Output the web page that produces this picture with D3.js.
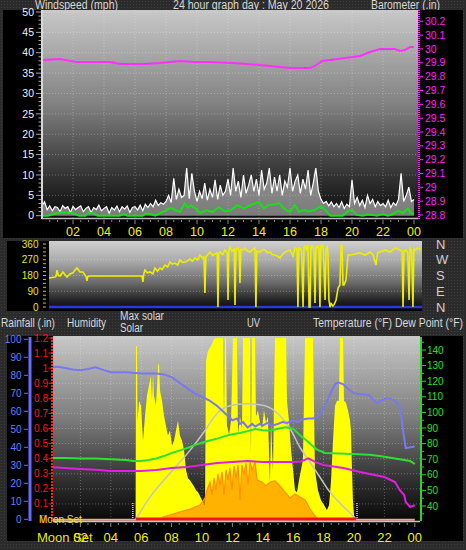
<!DOCTYPE html>
<html><head><meta charset="utf-8">
<script src="https://cdn.jsdelivr.net/npm/d3@7/dist/d3.min.js"></script>
<style>html,body{margin:0;padding:0;background:#2d2d2d;overflow:hidden}svg{display:block}</style>
</head><body>
<svg id="c" width="466" height="550"></svg>
<script>
// ---------------- DATA ----------------
const hourLabels = ["02","04","06","08","10","12","14","16","18","20","22","00"];
const hourTicks = [2,4,6,8,10,12,14,16,18,20,22,24];
const windTicks = [0,5,10,15,20,25,30,35,40,45,50];
const baroTicks = [28.8,28.9,29.0,29.1,29.2,29.3,29.4,29.5,29.6,29.7,29.8,29.9,30.0,30.1,30.2];
const dirTicks = [0,90,180,270,360];
const compass = ["N","E","S","W","N"];
const humTicks = [0,10,20,30,40,50,60,70,80,90,100];
const rainTicks = [0.1,0.2,0.3,0.4,0.5,0.6,0.7,0.8,0.9,1.0,1.1,1.2];
const tempTicks = [40,50,60,70,80,90,100,110,120,130,140];

// wind gust (mph), one value every 10 minutes from 00:00
const windGust = [
2.5,3.4,1.5,2.4,1.2,2.2, 2.0,1.0,2.5,1.8,2.2,0.8, 2.3,1.5,2.0,2.4,1.0,1.8,
2.2,0.8,2.0,1.5,2.6,1.2, 1.8,2.2,0.6,2.0,1.4,2.4, 1.0,2.2,1.6,2.4,0.8,2.0,
2.2,1.4,2.6,1.2,2.8,2.0, 3.0,2.2,3.8,2.5,3.2,2.8, 3.5,5.0,3.2,9.2,4.0,6.5,
4.5,5.0,11.7,4.2,10.4,6.0, 3.5,6.0,4.2,8.0,3.8,6.5, 4.5,8.8,4.0,7.5,5.0,6.0,
9.0,5.0,11.7,6.0,8.5,4.5, 10.0,5.5,7.5,10.0,6.0,9.0, 5.0,11.2,6.5,8.0,11.7,5.5,
9.5,6.0,10.0,5.0,8.5,7.0, 11.7,6.0,8.5,10.0,5.5,9.0, 6.5,11.2,5.0,8.0,11.7,6.0,
4.0,3.0,3.5,2.4,3.4,2.2, 3.0,2.0,3.4,1.8,2.8,2.2, 8.8,3.0,4.5,2.5,3.8,2.0,
5.0,3.0,4.0,2.2,3.5,2.5, 3.0,2.2,3.8,2.0,3.2,2.5, 4.0,10.4,3.5,5.0,7.0,3.5,
4.0];
const gustStepHours = 1/6;

// average wind [hour, mph]
const windAvg = [[0,0],[0.4,0],[0.8,0.5],[1.2,0.8],[1.6,0.8],[2.0,0.6],[2.4,0],[2.8,0],[3.0,0.7],[3.3,0.6],[3.6,0],[4.0,0],[5.0,0],[5.3,0.4],[5.5,0],[6.0,0],[6.5,0],[6.7,0.6],[7.0,0.4],[7.3,0],[7.6,0.6],[8.0,1.3],[8.3,1.9],[8.6,1.4],[8.9,0.9],[9.2,3.0],[9.4,2.0],[9.6,2.5],[9.9,1.8],[10.2,0.6],[10.6,1.4],[11.0,0.9],[11.4,2.1],[11.8,1.1],[12.2,1.4],[12.6,2.6],[13.0,1.8],[13.4,2.5],[13.8,3.1],[14.0,3.4],[14.3,1.8],[14.6,2.6],[15.0,2.8],[15.3,3.1],[15.6,1.8],[16.0,0.9],[16.3,2.6],[16.6,0.9],[16.9,1.4],[17.2,1.1],[17.6,1.4],[18.0,2.4],[18.3,1.3],[18.6,0],[19.0,0],[19.4,0],[19.8,1.3],[20.0,1.4],[20.3,0.2],[20.7,0],[21.0,0.3],[21.3,0.2],[21.6,0],[22.0,0.4],[22.3,0],[22.6,0.3],[23.0,1.2],[23.3,0.6],[23.6,1.8],[23.8,0.6],[24.0,0.4]];

// barometer [hour, inHg]
const baro = [[0,29.92],[1.16,29.927],[2.26,29.905],[4.39,29.905],[5.03,29.891],[6.65,29.891],[7.61,29.898],[8.9,29.913],[9.87,29.905],[10.84,29.905],[12.32,29.898],[14.06,29.884],[15.35,29.869],[16.0,29.862],[16.65,29.862],[17.29,29.862],[17.61,29.877],[18.06,29.913],[18.58,29.92],[19.55,29.934],[20.52,29.949],[21.16,29.978],[21.81,29.999],[22.77,29.999],[23.1,29.985],[23.42,29.992],[23.74,30.014],[24,30.014]];

// wind direction [hour, degrees]
const windDir = [[0,166],[0.39,171],[0.45,175],[0.52,211],[0.6,180],[0.71,177],[0.9,200],[1.16,171],[1.35,189],[1.55,195],[1.68,211],[1.81,223],[2.0,200],[2.19,200],[2.4,171],[2.45,149],[2.5,175],[2.65,177],[2.84,177],[4,177],[5,177],[6.0,177],[6.06,143],[6.12,190],[6.19,211],[6.35,195],[6.52,200],[6.7,190],[6.84,223],[7.0,205],[7.16,223],[7.3,215],[7.48,240],[7.65,230],[7.81,257],[7.95,245],[8.13,251],[8.3,240],[8.45,269],[8.6,255],[8.77,257],[8.95,265],[9.1,274],[9.25,262],[9.42,280],[9.6,270],[9.74,297],[9.9,280],[10.0,286],[10.06,80],[10.12,286],[10.25,300],[10.39,314],[10.55,295],[10.71,303],[10.85,310],[10.9,0],[10.96,305],[11.03,314],[11.2,300],[11.35,326],[11.5,310],[11.55,40],[11.6,320],[11.68,343],[11.8,320],[11.87,326],[11.95,330],[12.0,11],[12.06,330],[12.19,337],[12.27,320],[12.32,137],[12.38,330],[12.52,326],[12.65,337],[12.8,320],[12.97,314],[13.15,330],[13.29,337],[13.35,0],[13.41,320],[13.61,314],[13.8,330],[13.94,326],[14.1,310],[14.26,314],[14.4,300],[14.58,297],[14.75,290],[14.9,280],[15.05,300],[15.23,314],[15.4,320],[15.55,326],[15.74,291],[15.87,337],[16.0,330],[16.06,0],[16.12,337],[16.19,337],[16.3,320],[16.39,0],[16.45,340],[16.52,349],[16.6,330],[16.71,354],[16.78,0],[16.84,0],[16.9,345],[17.03,349],[17.1,320],[17.16,23],[17.22,340],[17.35,349],[17.42,330],[17.48,0],[17.54,345],[17.61,354],[17.7,340],[17.81,40],[17.87,330],[17.94,349],[18.0,300],[18.06,40],[18.13,0],[18.2,20],[18.32,6],[18.4,15],[18.52,40],[18.65,109],[18.77,126],[18.84,354],[18.9,354],[18.97,126],[19.03,126],[19.16,154],[19.29,297],[19.42,297],[19.74,303],[20.06,309],[20.39,297],[20.71,314],[20.9,300],[21.1,240],[21.2,310],[21.35,314],[21.68,326],[22.0,314],[22.32,337],[22.65,326],[22.78,320],[22.84,0],[22.9,320],[23.03,326],[23.15,310],[23.23,40],[23.29,337],[23.4,320],[23.48,0],[23.54,330],[23.61,326],[23.81,337],[24,326]];

// solar radiation [hour, W/m2]
const solar = [[5.63,0],[5.66,1147],[5.72,1147],[5.76,652],[5.86,784],[5.99,751],[6.12,521],[6.25,685],[6.38,817],[6.51,883],[6.64,949],[6.71,784],[6.78,969],[6.84,817],[6.97,751],[7.04,883],[7.11,1015],[7.17,1035],[7.24,850],[7.37,784],[7.50,685],[7.63,619],[7.76,554],[7.89,587],[8.03,488],[8.16,521],[8.29,587],[8.42,652],[8.55,554],[8.68,521],[8.82,455],[8.95,323],[9.08,270],[9.21,257],[9.34,237],[9.47,217],[9.61,191],[9.74,178],[9.87,152],[10.00,125],[10.13,92],[10.20,92],[10.26,1048],[10.39,1114],[10.59,1147],[10.79,1193],[10.92,1200],[11.38,1200],[11.45,652],[11.51,1200],[11.58,1200],[11.64,620],[11.78,560],[11.91,650],[12.04,1200],[12.30,1200],[12.37,560],[12.50,680],[12.63,600],[12.70,1200],[13.16,1200],[13.22,435],[13.29,1200],[13.49,1200],[13.55,680],[13.68,720],[13.82,640],[13.95,600],[14.08,720],[14.21,640],[14.34,680],[14.47,244],[14.54,652],[14.67,323],[14.80,1200],[15.53,1200],[15.59,784],[15.72,652],[15.86,455],[15.99,323],[16.12,191],[16.25,178],[16.38,257],[16.51,323],[16.64,389],[16.78,1200],[17.30,1200],[17.43,323],[17.63,191],[17.83,125],[18.03,92],[18.22,59],[18.36,92],[18.49,257],[18.62,521],[18.75,751],[18.88,784],[19.01,784],[19.08,1200],[19.28,1200],[19.34,784],[19.47,771],[19.61,718],[19.74,652],[19.80,587],[19.87,323],[19.93,125],[20.00,26],[20.07,0]];

// maximum (clear-sky) solar [hour, W/m2]
const maxSolar = [[5.66,0],[6.58,145],[7.89,303],[9.21,455],[10.20,587],[10.86,685],[11.84,751],[12.96,764],[14.14,751],[15.13,685],[15.79,600],[16.45,474],[17.11,376],[17.76,277],[18.42,178],[19.08,105],[19.74,40],[20.13,0]];

// UV index [hour, index]
const uv = [[7.42,0],[7.43,0.18],[7.89,0.35],[8.55,0.62],[9.21,0.88],[9.87,1.23],[10.20,1.85],[10.33,2.55],[10.53,3.25],[10.66,2.11],[10.79,3.6],[10.92,2.55],[11.05,3.96],[11.18,2.99],[11.32,4.13],[11.45,2.11],[11.58,4.31],[11.71,3.43],[11.84,4.48],[11.97,2.55],[12.11,4.66],[12.24,3.6],[12.37,4.75],[12.50,1.67],[12.63,4.75],[12.76,3.87],[12.89,4.92],[13.03,2.99],[13.16,5.0],[13.29,4.31],[13.49,5.0],[13.62,3.43],[13.95,3.25],[14.21,2.9],[14.47,3.25],[14.80,3.34],[15.13,2.9],[15.46,2.37],[15.79,1.85],[16.12,2.2],[16.45,1.93],[16.78,1.67],[17.11,0.88],[17.43,0.26],[17.63,0]];

// humidity [hour, %]
const humidity = [[0,84.4],[0.5,84.8],[1,84.0],[1.5,83.2],[2,82.8],[2.5,83.5],[3,84.4],[3.5,83],[4,81.7],[5,81.7],[6,81],[7,81],[7.5,80.5],[8,79],[8.5,76],[9,73],[9.5,70],[10,68],[10.5,66],[11,63],[11.5,59],[12,55],[12.3,56],[12.5,53],[12.7,54],[13,51],[13.3,53],[13.5,51.5],[13.8,53],[14,52],[14.3,53.5],[14.6,52],[15,53],[15.3,54],[15.6,53.5],[16,55],[16.3,54],[16.6,55.5],[17,56],[17.3,56],[17.6,57],[17.9,60],[18.2,65],[18.5,71],[18.8,75.5],[19.0,76],[19.3,75],[19.6,72.5],[20.0,70],[20.5,69.5],[21.0,69],[21.45,64.6],[21.8,66],[22.2,67.4],[22.7,66],[23.0,63],[23.2,51],[23.4,39.6],[23.7,40],[24,40.5]];

// temperature [hour, F]
const temperature = [[0,70.8],[1,70.8],[2,70.5],[3,70.5],[4,70],[5,69.5],[5.5,68.8],[6,68.8],[6.5,69.5],[7,70.5],[7.5,72],[8,74],[8.5,75.5],[9,77],[9.5,79],[10,80.5],[10.5,82],[11,83.2],[11.5,84.8],[12,86],[12.5,86.8],[13,88],[13.5,89.4],[14,88.5],[14.5,88.2],[15,89.5],[15.5,90.5],[16,89.5],[16.5,84.9],[17,81],[17.2,79.1],[17.6,76],[18.1,74],[19,73.6],[19.9,73.3],[21,72.8],[21.7,72],[23,70],[23.7,68.8],[24,66.9]];

// dew point [hour, F]
const dewPoint = [[0,65],[1,64.4],[2,63.7],[3,63.2],[4,62.4],[5,62.4],[6,62.4],[7,63.1],[8,64.4],[9,65],[10,66.3],[11,67.6],[12,68.2],[13,68.8],[14,68.2],[15,68.2],[16,68.2],[16.5,68.5],[17,70.5],[17.5,68],[18,66.3],[19.3,64.4],[20.4,61.8],[22,58.6],[22.7,55.4],[23.0,50.3],[23.3,47],[23.4,42.6],[23.7,39.4],[24,40.6]];

// rainfall [hour, in]
const rainfall = [[0,0],[24,0]];
const daylight = [[5.66,0],[20.13,0]];
const sunMarks = [5.45, 20.2];

// ---------------- DRAW ----------------
const W = 466, H = 550;
const FONT = "'Liberation Sans', Arial, sans-serif";
const svg = d3.select("#c");
const defs = svg.append("defs");
function grad(id, stops){
  const g = defs.append("linearGradient").attr("id",id).attr("x1",0).attr("y1",0).attr("x2",0).attr("y2",1);
  stops.forEach(([o,c])=>g.append("stop").attr("offset",o).attr("stop-color",c));
}
grad("gT", [[0,"#c8c8c8"],[0.45,"#828282"],[0.8,"#323232"],[1,"#0a0a0a"]]);
grad("gM", [[0,"#d0d0d0"],[0.3,"#a8a8a8"],[0.6,"#6c6c6c"],[0.85,"#262626"],[1,"#050510"]]);
grad("gB", [[0,"#c8c8c8"],[0.45,"#7c7c7c"],[0.8,"#2c2c2c"],[1,"#080808"]]);
const pat = defs.append("pattern").attr("id","dots").attr("width",3).attr("height",3).attr("patternUnits","userSpaceOnUse");
pat.append("rect").attr("width",3).attr("height",3).attr("fill","#2b2b2b");
pat.append("rect").attr("x",1).attr("y",1).attr("width",1).attr("height",1).attr("fill","#3e3e3e");
function clip(id,x,y,w,h){ defs.append("clipPath").attr("id",id).append("rect").attr("x",x).attr("y",y).attr("width",w).attr("height",h); }
clip("cT",43,10,375,208); clip("cM",49,241,373,69); clip("cB",53,336,367,185);

svg.append("rect").attr("width",W).attr("height",H).attr("fill","url(#dots)");

function txt(g,x,y,s,opt={}){
  const t = g.append("text").attr("x",x).attr("y",y).text(s)
    .attr("font-family",FONT).attr("font-size",opt.size||12).attr("fill",opt.fill||"#d8d8d8")
    .attr("text-anchor",opt.anchor||"start");
  if(opt.len){ t.attr("textLength",opt.len).attr("lengthAdjust","spacingAndGlyphs"); }
  if(opt.dy) t.attr("dy",opt.dy);
  return t;
}

// ===== TOP PANEL =====
const xT = d3.scaleLinear().domain([0,24]).range([42,414]);
const yW = d3.scaleLinear().domain([0,50]).range([215.7,12]);
const yBa = d3.scaleLinear().domain([28.8,30.2]).range([215,21.3]);

txt(svg,35,9,"Windspeed (mph)",{len:83});
txt(svg,173,9,"24 hour graph day : May 20 2026",{len:156});
txt(svg,371,9,"Barometer (.in)",{len:69});

svg.append("rect").attr("x",3).attr("y",10).attr("width",460).attr("height",228).attr("fill","#000");
svg.append("rect").attr("x",43).attr("y",10).attr("width",375).attr("height",208).attr("fill","url(#gT)");
const gT = svg.append("g").attr("clip-path","url(#cT)");
gT.selectAll("line.h").data(windTicks.slice(1)).join("line")
  .attr("x1",43).attr("x2",418).attr("y1",d=>yW(d)).attr("y2",d=>yW(d))
  .attr("stroke","rgba(255,255,255,0.28)").attr("stroke-dasharray","1,2");
gT.selectAll("line.v").data(hourTicks.slice(0,11)).join("line")
  .attr("x1",d=>xT(d)).attr("x2",d=>xT(d)).attr("y1",10).attr("y2",218)
  .attr("stroke","rgba(255,255,255,0.28)").attr("stroke-dasharray","1,2");

const gustPts = windGust.map((v,i)=>[i*gustStepHours,v]);
gT.append("path").datum(gustPts)
  .attr("d", d3.area().x(d=>xT(d[0])).y0(yW(0)).y1(d=>yW(d[1])))
  .attr("fill","rgba(215,215,215,0.55)");
gT.append("path").datum(gustPts)
  .attr("d", d3.line().x(d=>xT(d[0])).y(d=>yW(d[1])))
  .attr("fill","none").attr("stroke","#ffffff").attr("stroke-width",1.2);
gT.append("path").datum(windAvg)
  .attr("d", d3.line().x(d=>xT(d[0])).y(d=>yW(d[1])))
  .attr("fill","none").attr("stroke","#18e018").attr("stroke-width",2);
gT.append("path").datum(baro)
  .attr("d", d3.line().x(d=>xT(d[0])).y(d=>yBa(d[1])))
  .attr("fill","none").attr("stroke","#ff30ff").attr("stroke-width",2);

// axes top
svg.append("line").attr("x1",42).attr("x2",42).attr("y1",10).attr("y2",219).attr("stroke","#d8d8d8").attr("stroke-width",2);
svg.append("line").attr("x1",42).attr("x2",418).attr("y1",218.5).attr("y2",218.5).attr("stroke","#c0c0c0").attr("stroke-width",1.5);
svg.selectAll("line.wm").data(d3.range(0,51,1)).join("line")
  .attr("x1",d=>d%5===0?36:38.5).attr("x2",41).attr("y1",d=>yW(d)).attr("y2",d=>yW(d))
  .attr("stroke","#aaaaaa").attr("stroke-width",1);
svg.selectAll("text.wl").data(windTicks).join("text")
  .attr("x",34).attr("y",d=>yW(d)).attr("dy","0.35em").attr("text-anchor","end")
  .attr("font-family",FONT).attr("font-size",10.5).attr("fill","#eef2ff").text(d=>d);
svg.append("line").attr("x1",419).attr("x2",419).attr("y1",10).attr("y2",219).attr("stroke","#ff30ff").attr("stroke-width",2).attr("stroke-dasharray","1,1");
svg.selectAll("line.bm").data(baroTicks).join("line")
  .attr("x1",420).attr("x2",423).attr("y1",d=>yBa(d)).attr("y2",d=>yBa(d)).attr("stroke","#ff30ff");
svg.selectAll("text.bl").data(baroTicks).join("text")
  .attr("x",425).attr("y",d=>yBa(d)).attr("dy","0.35em")
  .attr("font-family",FONT).attr("font-size",10.5).attr("fill","#ff20ff").text(d=>String(+d.toFixed(1)));
svg.selectAll("line.xt").data(d3.range(0.5,24.01,0.5)).join("line")
  .attr("x1",d=>xT(d)).attr("x2",d=>xT(d)).attr("y1",220).attr("y2",d=>d%2===0?224:222).attr("stroke","#888");
svg.selectAll("text.xl").data(hourTicks).join("text")
  .attr("x",d=>xT(d)).attr("y",236).attr("text-anchor","middle")
  .attr("font-family",FONT).attr("font-size",12.5).attr("fill","#f0f000").text((d,i)=>hourLabels[i]);

// ===== MIDDLE PANEL =====
const xM = d3.scaleLinear().domain([0,24]).range([49,421]);
const yD = d3.scaleLinear().domain([0,360]).range([307,244]);
svg.append("rect").attr("x",7).attr("y",241).attr("width",42).attr("height",70).attr("fill","#000");
svg.append("rect").attr("x",49).attr("y",241).attr("width",373).attr("height",69).attr("fill","url(#gM)");
svg.append("rect").attr("x",7).attr("y",309.5).attr("width",415).attr("height",1.5).attr("fill","#000");
const gM = svg.append("g").attr("clip-path","url(#cM)");
gM.selectAll("line.h").data(dirTicks.slice(1,4)).join("line")
  .attr("x1",49).attr("x2",422).attr("y1",d=>yD(d)).attr("y2",d=>yD(d))
  .attr("stroke","rgba(255,255,255,0.3)").attr("stroke-dasharray","1,2");
gM.append("path").datum([[0,0],[24.2,0]])
  .attr("d", d3.line().x(d=>xM(d[0])).y(d=>yD(d[1])))
  .attr("stroke","#2a3ad8").attr("stroke-width",2.5).attr("fill","none");
gM.append("path").datum(windDir)
  .attr("d", d3.line().x(d=>xM(d[0])).y(d=>yD(d[1])))
  .attr("fill","none").attr("stroke","#eeee00").attr("stroke-width",1.6);
svg.selectAll("line.dm").data(d3.range(0,361,22.5)).join("line")
  .attr("x1",43).attr("x2",46).attr("y1",d=>yD(d)).attr("y2",d=>yD(d)).attr("stroke","#c8c800");
svg.selectAll("text.dl").data(dirTicks).join("text")
  .attr("x",38.5).attr("y",d=>yD(d)).attr("dy","0.35em").attr("text-anchor","end")
  .attr("font-family",FONT).attr("font-size",10).attr("fill","#e8e800").text(d=>d);
svg.selectAll("text.cp").data(dirTicks).join("text")
  .attr("x",436).attr("y",d=>yD(d)).attr("dy","0.36em")
  .attr("font-family",FONT).attr("font-size",13).attr("fill","#d0d0d0").text((d,i)=>compass[i]);

// ===== BOTTOM PANEL =====
const xB = d3.scaleLinear().domain([0,24]).range([50,414.8]);
const yH = d3.scaleLinear().domain([0,100]).range([519.3,339.3]);
const yR = d3.scaleLinear().domain([0,1.2]).range([519,338]);
const yTp = d3.scaleLinear().domain([40,140]).range([506,350]);
const yS = d3.scaleLinear().domain([0,1200]).range([519,338]);
const yU = d3.scaleLinear().domain([0,16]).range([519,337]);

txt(svg,1,327,"Rainfall (.in)",{len:54});
txt(svg,67,327,"Humidity",{len:39});
txt(svg,120,320,"Max solar",{len:44});
txt(svg,120,331.5,"Solar",{len:23});
txt(svg,247,327,"UV",{len:13});
txt(svg,313,327,"Temperature (°F) Dew Point (°F)",{len:150});

svg.append("rect").attr("x",7).attr("y",336).attr("width",46).attr("height",205).attr("fill","#000");
svg.append("rect").attr("x",420).attr("y",336).attr("width",43).attr("height",205).attr("fill","#000");
svg.append("rect").attr("x",7).attr("y",520).attr("width",456).attr("height",21).attr("fill","#000");
svg.append("rect").attr("x",53).attr("y",336).attr("width",367).attr("height",185).attr("fill","url(#gB)");
const gB = svg.append("g").attr("clip-path","url(#cB)");
gB.selectAll("line.h").data(rainTicks).join("line")
  .attr("x1",53).attr("x2",420).attr("y1",d=>yR(d)).attr("y2",d=>yR(d))
  .attr("stroke","rgba(255,255,255,0.28)").attr("stroke-dasharray","1,2");
gB.selectAll("line.v").data(hourTicks.slice(0,11)).join("line")
  .attr("x1",d=>xB(d)).attr("x2",d=>xB(d)).attr("y1",336).attr("y2",521)
  .attr("stroke","rgba(255,255,255,0.28)").attr("stroke-dasharray","1,2");

gB.append("path").datum(solar)
  .attr("d", d3.area().x(d=>xB(d[0])).y0(yS(0)).y1(d=>yS(d[1])))
  .attr("fill","#ffff00");
gB.append("path").datum(maxSolar)
  .attr("d", d3.line().curve(d3.curveMonotoneX).x(d=>xB(d[0])).y(d=>yS(d[1])))
  .attr("fill","none").attr("stroke","#c4c4c4").attr("stroke-width",1.5);
gB.append("path").datum(uv)
  .attr("d", d3.area().x(d=>xB(d[0])).y0(yU(0)).y1(d=>yU(d[1])))
  .attr("fill","#ff9a00").attr("fill-opacity",0.75);
gB.append("path").datum(uv)
  .attr("d", d3.line().x(d=>xB(d[0])).y(d=>yU(d[1])))
  .attr("fill","none").attr("stroke","#ff9000").attr("stroke-width",1.2);
gB.append("path").datum(humidity)
  .attr("d", d3.line().x(d=>xB(d[0])).y(d=>yH(d[1])))
  .attr("fill","none").attr("stroke","#7878f0").attr("stroke-width",2);
gB.append("path").datum(temperature)
  .attr("d", d3.line().x(d=>xB(d[0])).y(d=>yTp(d[1])))
  .attr("fill","none").attr("stroke","#30e030").attr("stroke-width",2);
gB.append("path").datum(dewPoint)
  .attr("d", d3.line().x(d=>xB(d[0])).y(d=>yTp(d[1])))
  .attr("fill","none").attr("stroke","#e020e0").attr("stroke-width",2);
gB.append("path").datum(rainfall)
  .attr("d", d3.line().x(d=>xB(d[0])).y(d=>yR(d[1])+0.8))
  .attr("fill","none").attr("stroke","#f4a48c").attr("stroke-width",2);
gB.append("path").datum(daylight)
  .attr("d", d3.line().x(d=>xB(d[0])).y(d=>yR(d[1])))
  .attr("fill","none").attr("stroke","#ff1010").attr("stroke-width",3);
gB.selectAll("line.sun").data(sunMarks).join("line")
  .attr("x1",d=>xB(d)).attr("x2",d=>xB(d)).attr("y1",503).attr("y2",519)
  .attr("stroke","#e8e800").attr("stroke-width",1.5).attr("stroke-dasharray","1,1");

// bottom axes
svg.append("line").attr("x1",30).attr("x2",30).attr("y1",337).attr("y2",521).attr("stroke","#6a6aff").attr("stroke-width",3);
svg.selectAll("line.hm").data(humTicks).join("line")
  .attr("x1",24).attr("x2",28).attr("y1",d=>yH(d)).attr("y2",d=>yH(d)).attr("stroke","#6a6aff");
svg.selectAll("text.hl").data(humTicks).join("text")
  .attr("x",21.5).attr("y",d=>yH(d)).attr("dy","0.35em").attr("text-anchor","end")
  .attr("font-family",FONT).attr("font-size",10).attr("fill","#6080ff").text(d=>d);
svg.append("line").attr("x1",52).attr("x2",52).attr("y1",337).attr("y2",521).attr("stroke","#ff2020").attr("stroke-width",2).attr("stroke-dasharray","2,1");
svg.selectAll("line.rm").data(rainTicks).join("line")
  .attr("x1",48.5).attr("x2",51).attr("y1",d=>yR(d)).attr("y2",d=>yR(d)).attr("stroke","#ff2020");
svg.selectAll("text.rl").data(rainTicks).join("text")
  .attr("x",48).attr("y",d=>yR(d)).attr("dy","0.35em").attr("text-anchor","end")
  .attr("font-family",FONT).attr("font-size",10).attr("fill","#ff1010").text(d=>String(+d.toFixed(1)));
txt(svg,40,523,"0",{size:10,fill:"#ff1010"});
txt(svg,39,523,"Moon Set",{size:10,fill:"#e8e800"});
svg.append("line").attr("x1",421).attr("x2",421).attr("y1",337).attr("y2",521).attr("stroke","#30d030").attr("stroke-width",2);
svg.selectAll("line.tm").data(d3.range(35,146,5)).join("line")
  .attr("x1",422).attr("x2",d=>d%10===0?426:424).attr("y1",d=>yTp(d)).attr("y2",d=>yTp(d)).attr("stroke","#30d030");
svg.selectAll("text.tl").data(tempTicks).join("text")
  .attr("x",427).attr("y",d=>yTp(d)).attr("dy","0.35em")
  .attr("font-family",FONT).attr("font-size",10).attr("fill","#20e020").text(d=>d);
svg.append("line").attr("x1",53).attr("x2",420).attr("y1",521.5).attr("y2",521.5).attr("stroke","#c8c8c8").attr("stroke-width",1.5);
svg.selectAll("line.bxt").data(d3.range(0.5,24.01,0.5)).join("line")
  .attr("x1",d=>xB(d)).attr("x2",d=>xB(d)).attr("y1",523).attr("y2",d=>d%2===0?527:525).attr("stroke","#888");
txt(svg,37,542,"Moon Set",{size:13,fill:"#e8e800"});
svg.selectAll("text.bxl").data(hourTicks).join("text")
  .attr("x",d=>xB(d)).attr("y",542).attr("text-anchor","middle")
  .attr("font-family",FONT).attr("font-size",13).attr("fill","#f0f000").text((d,i)=>hourLabels[i]);
</script>
</body></html>
